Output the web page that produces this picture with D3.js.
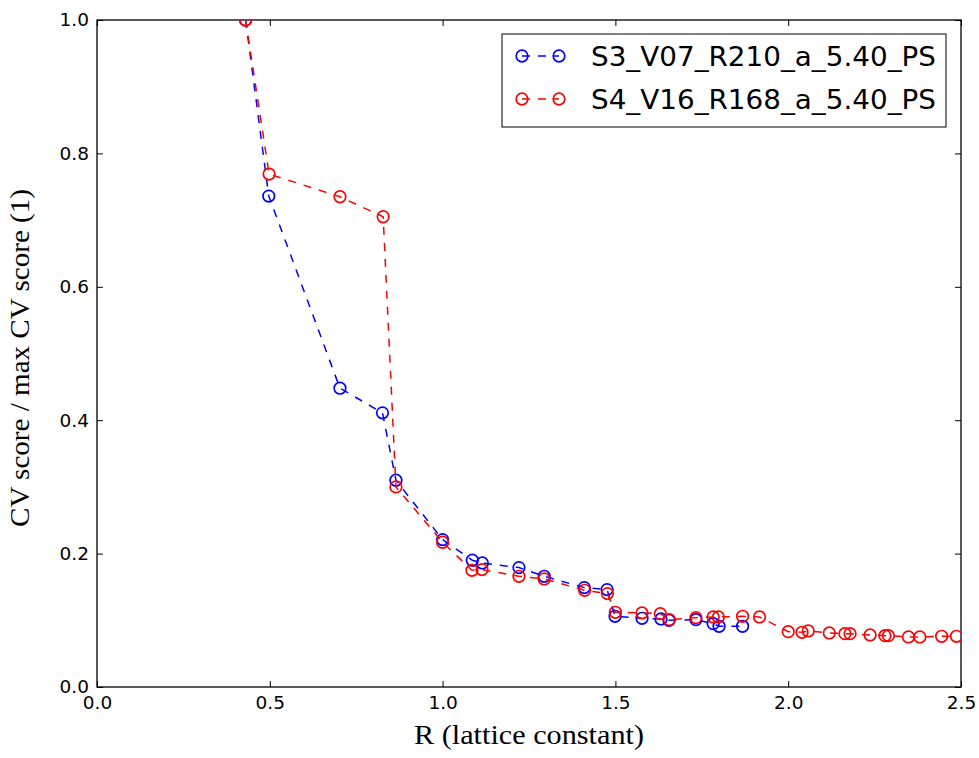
<!DOCTYPE html>
<html lang="en">
<head>
    <meta charset="UTF-8">
    <title>CV score vs lattice constant</title>
    <style>
        body { margin: 0; background: #fff; }
        #chart { width: 979px; height: 758px; }
        .tick text { font-family: "DejaVu Sans", sans-serif; font-size: 18.5px; fill: #000; }
        .axis-label { font-family: "Liberation Serif", "DejaVu Serif", serif; font-size: 27px; }
        .legend-text { font-family: "DejaVu Sans", sans-serif; font-size: 27px; }
    </style>
    <script src="https://d3js.org/d3.v7.min.js"></script>
</head>
<body>
<div id="chart"></div>
<script>
    // Series S3_V07_R210_a_5.40_PS (blue)
    const s3X = [0.43, 0.497, 0.703, 0.826, 0.865, 1.0, 1.086, 1.115, 1.221, 1.294, 1.41, 1.476, 1.499, 1.577, 1.632, 1.655, 1.733, 1.783, 1.80, 1.868];
    const s3Y = [1.0, 0.736, 0.448, 0.411, 0.310, 0.221, 0.190, 0.186, 0.179, 0.166, 0.149, 0.146, 0.106, 0.103, 0.102, 0.100, 0.101, 0.095, 0.091, 0.091];

    // Series S4_V16_R168_a_5.40_PS (red)
    const s4X = [0.43, 0.498, 0.703, 0.828, 0.865, 1.0, 1.085, 1.114, 1.221, 1.294, 1.411, 1.477, 1.5, 1.577, 1.63, 1.656, 1.733, 1.783, 1.798, 1.868, 1.917, 2.0, 2.04, 2.058, 2.119, 2.164, 2.179, 2.237, 2.28, 2.29, 2.348, 2.381, 2.444, 2.487];
    const s4Y = [1.0, 0.769, 0.735, 0.705, 0.300, 0.217, 0.175, 0.176, 0.166, 0.162, 0.145, 0.140, 0.112, 0.111, 0.110, 0.101, 0.104, 0.105, 0.105, 0.106, 0.105, 0.083, 0.082, 0.084, 0.081, 0.080, 0.080, 0.078, 0.077, 0.077, 0.075, 0.075, 0.076, 0.076];

    const xTicks = [0.0, 0.5, 1.0, 1.5, 2.0, 2.5];
    const yTicks = [0.0, 0.2, 0.4, 0.6, 0.8, 1.0];

    const seriesNames = ["S3_V07_R210_a_5.40_PS", "S4_V16_R168_a_5.40_PS"];
    const seriesColors = ["#0000ff", "#ff0000"];

    const series = [
        { name: seriesNames[0], color: seriesColors[0], pts: s3X.map((x, i) => ({ x: x, y: s3Y[i] })) },
        { name: seriesNames[1], color: seriesColors[1], pts: s4X.map((x, i) => ({ x: x, y: s4Y[i] })) }
    ];

    const W = 979, H = 758;
    const margin = { top: 20, right: 18, bottom: 71, left: 97 };
    const width = W - margin.left - margin.right;
    const height = H - margin.top - margin.bottom;

    const svg = d3.select("#chart").append("svg")
        .attr("width", W)
        .attr("height", H);

    const g = svg.append("g")
        .attr("transform", `translate(${margin.left},${margin.top})`);

    const x = d3.scaleLinear().domain([0, 2.5]).range([0, width]);
    const y = d3.scaleLinear().domain([0, 1.0]).range([height, 0]);

    // clip so markers at the edges get cut like the original
    svg.append("defs").append("clipPath").attr("id", "plotclip")
        .append("rect").attr("width", width).attr("height", height);

    // Axes with inward ticks (classic matplotlib look)
    const axBottom = g.append("g")
        .attr("transform", `translate(0,${height})`)
        .call(d3.axisBottom(x).tickValues(xTicks).tickFormat(d3.format(".1f")).tickSizeInner(-6).tickSizeOuter(0).tickPadding(9));
    const axLeft = g.append("g")
        .call(d3.axisLeft(y).tickValues(yTicks).tickFormat(d3.format(".1f")).tickSizeInner(-6).tickSizeOuter(0).tickPadding(8));
    const axTop = g.append("g")
        .call(d3.axisTop(x).tickValues(xTicks).tickFormat("").tickSizeInner(-6).tickSizeOuter(0));
    const axRight = g.append("g")
        .attr("transform", `translate(${width},0)`)
        .call(d3.axisRight(y).tickValues(yTicks).tickFormat("").tickSizeInner(-6).tickSizeOuter(0));

    [axBottom, axLeft, axTop, axRight].forEach(a => {
        a.select(".domain").remove();
        a.selectAll(".tick line").attr("stroke", "#000").attr("stroke-width", 1);
    });

    // Frame
    g.append("rect")
        .attr("width", width)
        .attr("height", height)
        .attr("fill", "none")
        .attr("stroke", "#000")
        .attr("stroke-width", 1.3);

    // Axis labels (narrow tall serif, squeezed to the original widths)
    svg.append("text")
        .attr("class", "axis-label")
        .attr("x", 529)
        .attr("y", 744)
        .attr("text-anchor", "middle")
        .attr("textLength", 230)
        .attr("lengthAdjust", "spacingAndGlyphs")
        .text("R (lattice constant)");

    svg.append("text")
        .attr("class", "axis-label")
        .attr("transform", `translate(29,358) rotate(-90)`)
        .attr("text-anchor", "middle")
        .attr("textLength", 338)
        .attr("lengthAdjust", "spacingAndGlyphs")
        .text("CV score / max CV score (1)");

    // Lines and markers
    const plot = g.append("g").attr("clip-path", "url(#plotclip)");
    const line = d3.line().x(d => x(d.x)).y(d => y(d.y));

    series.forEach(s => {
        plot.append("path")
            .datum(s.pts)
            .attr("fill", "none")
            .attr("stroke", s.color)
            .attr("stroke-width", 1.5)
            .attr("stroke-dasharray", "8,8")
            .attr("d", line);

        plot.selectAll(null)
            .data(s.pts)
            .enter().append("circle")
            .attr("cx", d => x(d.x))
            .attr("cy", d => y(d.y))
            .attr("r", 5.8)
            .attr("fill", "none")
            .attr("stroke", s.color)
            .attr("stroke-width", 1.7);
    });

    // Legend
    const legend = svg.append("g").attr("transform", "translate(502,34)");
    legend.append("rect")
        .attr("width", 444)
        .attr("height", 93)
        .attr("fill", "#fff")
        .attr("stroke", "#000")
        .attr("stroke-width", 1);

    series.forEach((s, i) => {
        const ly = 22 + i * 43;
        legend.append("line")
            .attr("x1", 20).attr("x2", 57)
            .attr("y1", ly).attr("y2", ly)
            .attr("stroke", s.color)
            .attr("stroke-width", 1.5)
            .attr("stroke-dasharray", "8,8");
        [20, 57].forEach(cx => {
            legend.append("circle")
                .attr("cx", cx).attr("cy", ly).attr("r", 5.8)
                .attr("fill", "none")
                .attr("stroke", s.color)
                .attr("stroke-width", 1.7);
        });
        legend.append("text")
            .attr("class", "legend-text")
            .attr("x", 89)
            .attr("y", ly)
            .attr("dy", "0.36em")
            .attr("textLength", 345)
            .attr("lengthAdjust", "spacingAndGlyphs")
            .text(s.name);
    });
</script>
</body>
</html>
